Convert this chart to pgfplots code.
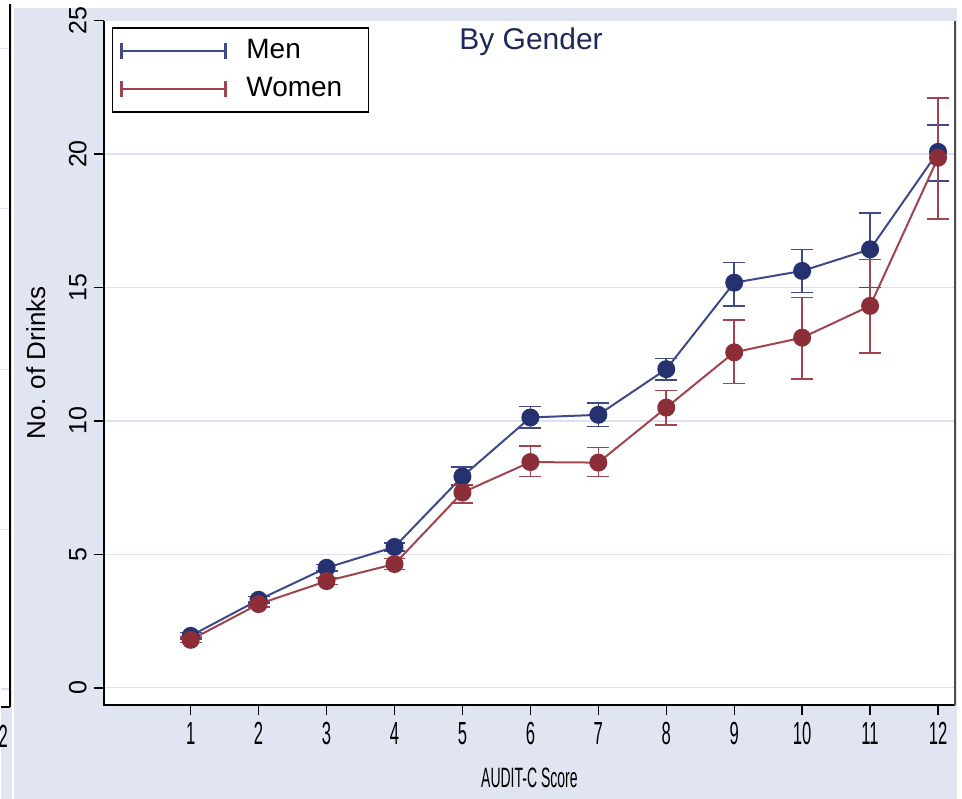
\documentclass[border=0pt]{standalone}
\usepackage{pgfplots}
\pgfplotsset{compat=1.18}
\usepackage{pgfplotstable}
\usepackage{graphicx}
\usepackage{fontspec}
\setmainfont{Liberation Sans}
\definecolor{bg}{RGB}{225,228,241}
\definecolor{gridc}{RGB}{220,224,242}
\definecolor{menM}{RGB}{38,50,112}
\definecolor{menL}{RGB}{62,74,135}
\definecolor{womM}{RGB}{140,46,56}
\definecolor{womL}{RGB}{160,68,78}
\definecolor{titlec}{RGB}{30,40,90}

\pgfplotstableread{
x y ep em
1 1.95 0.12 0.12
2 3.30 0.12 0.12
3 4.50 0.12 0.12
4 5.28 0.15 0.15
5 7.92 0.35 0.31
6 10.13 0.41 0.40
7 10.23 0.44 0.44
8 11.94 0.40 0.40
9 15.18 0.75 0.88
10 15.62 0.81 0.81
11 16.43 1.37 1.43
12 20.08 1.00 1.08
}\men

\pgfplotstableread{
x y ep em
1 1.80 0.10 0.10
2 3.14 0.10 0.10
3 4.00 0.12 0.12
4 4.64 0.20 0.20
5 7.32 0.30 0.40
6 8.46 0.61 0.54
7 8.44 0.57 0.52
8 10.50 0.64 0.66
9 12.57 1.21 1.17
10 13.12 1.50 1.54
11 14.31 1.74 1.77
12 19.86 2.24 2.30
}\women

\begin{document}
\begin{tikzpicture}
% background
\fill[bg] (0,0) rectangle (481pt,398pt);
\fill[white] (6.5pt,396pt) rectangle (481pt,398pt);
\fill[white] (478.5pt,0) rectangle (481pt,398pt);
% stub of neighbouring panel on the left
\fill[white] (0,46pt) rectangle (4.5pt,398pt);
\foreach \yy in {375.5,295.5,215,135,55} {\draw[gridc, line width=0.6pt] (0,\yy pt) -- (4.5pt,\yy pt);}
\draw[black, line width=0.8pt] (4.5pt,46pt) -- (4.5pt,398pt);
\draw[black, line width=0.8pt] (0,46pt) -- (4.5pt,46pt);
\begin{scope}
\clip (0,0) rectangle (5.2pt,398pt);
\node[font=\fontsize{16}{18}\selectfont, inner sep=0pt] at (1.2pt,31.5pt) {\scalebox{0.52}[1]{2}};
\end{scope}
\fill[white] (5.4pt,0) rectangle (6.4pt,398pt);

\begin{axis}[
  at={(51.5pt,47pt)}, anchor=south west,
  width=426pt, height=342.5pt, scale only axis,
  xmin=-0.28, xmax=12.25, ymin=-0.64, ymax=25,
  axis background/.style={fill=white},
  axis line style={draw=none},
  xtick={1,2,...,12}, ytick={0,5,10,15,20,25},
  xtick pos=bottom, ytick pos=left,
  tick align=outside,
  major tick length=5pt,
  tick style={black, line width=0.7pt},
  ymajorgrids, grid style={gridc, line width=0.6pt},
  /pgf/number format/assume math mode=true,
  xticklabel={\scalebox{0.52}[1]{\pgfmathprintnumber{\tick}}},
  x tick label style={font=\fontsize{16}{18}\selectfont},
  y tick label style={font=\fontsize{12.5}{14}\selectfont, rotate=90, anchor=south},
  xlabel={\scalebox{0.5}[1]{AUDIT-C Score}},
  xlabel style={font=\fontsize{14}{16}\selectfont, at={(axis description cs:0.5,-0.1066)}, anchor=center},
  ylabel={No. of Drinks},
  ylabel style={font=\fontsize{13}{15}\selectfont, at={(axis description cs:-0.0798,0.5)}, anchor=center, rotate=0},
  clip=false,
  legend style={at={(axis description cs:0.0094,0.99)}, anchor=north west,
    draw=black, line width=0.8pt, fill=white,
    font=\fontsize{14}{16}\selectfont,
    inner xsep=3pt, inner ysep=3pt, row sep=2pt,
    nodes={inner sep=2pt, text height=10pt, text depth=3pt},
    cells={anchor=west}},
]
\addplot[menL, line width=1pt, mark=*, mark size=4pt, mark options={fill=menM, draw=menM},
  legend image code/.code={%
    \draw[menL, line width=0.8pt] (0pt,0pt) -- (52pt,0pt);
    \draw[menL, line width=1.1pt] (0pt,-4pt) -- (0pt,4pt);
    \draw[menL, line width=1.1pt] (52pt,-4pt) -- (52pt,4pt);
    \path (-1pt,0pt) (60pt,0pt);},
  error bars/.cd, y dir=both, y explicit,
  error bar style={menL, line width=0.8pt},
  error mark=-, error mark options={menL, line width=0.8pt, mark size=5.5pt, rotate=90}]
  table[x=x, y=y, y error plus=ep, y error minus=em] {\men};
\addlegendentry{\makebox[56pt][l]{Men}}
\addplot[womL, line width=1pt, mark=*, mark size=4pt, mark options={fill=womM, draw=womM},
  legend image code/.code={%
    \draw[womL, line width=0.8pt] (0pt,0pt) -- (52pt,0pt);
    \draw[womL, line width=1.1pt] (0pt,-4pt) -- (0pt,4pt);
    \draw[womL, line width=1.1pt] (52pt,-4pt) -- (52pt,4pt);
    \path (-1pt,0pt) (60pt,0pt);},
  error bars/.cd, y dir=both, y explicit,
  error bar style={womL, line width=0.8pt},
  error mark=-, error mark options={womL, line width=0.8pt, mark size=5.5pt, rotate=90}]
  table[x=x, y=y, y error plus=ep, y error minus=em] {\women};
\addlegendentry{\makebox[56pt][l]{Women}}
\node[font=\fontsize{15}{17}\selectfont, text=titlec] at (axis description cs:0.502,0.969) {By Gender};
% frame
\draw[black, line width=0.8pt] (axis description cs:0,1) -- (axis description cs:0,0) -- (axis description cs:1,0);
\draw[black!70, line width=1pt] (axis description cs:1,0) -- (axis description cs:1,1);
\end{axis}
\end{tikzpicture}
\end{document}
